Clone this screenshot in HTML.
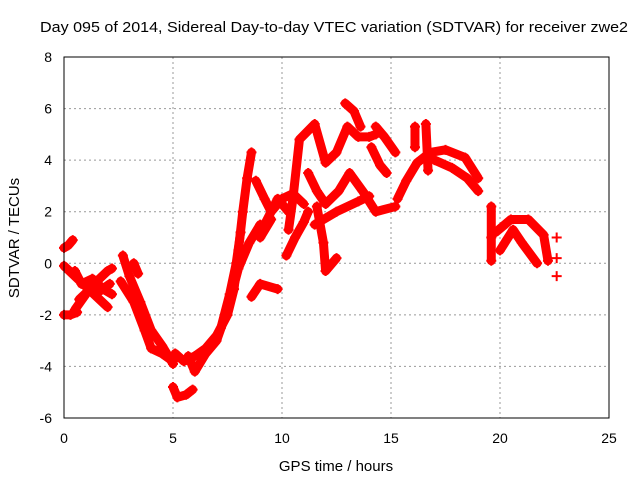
<!DOCTYPE html>
<html><head><meta charset="utf-8"><style>
body{margin:0;background:#fff;}
svg text{font-family:"Liberation Sans",sans-serif;font-size:14px;fill:#000;}
</style></head><body>
<svg id="chart" width="640" height="480">
<text x="40" y="32" textLength="588" lengthAdjust="spacingAndGlyphs" style="font-size:15px">Day 095 of 2014, Sidereal Day-to-day VTEC variation (SDTVAR) for receiver zwe2</text>
<text x="336" y="471" text-anchor="middle" style="font-size:15px">GPS time / hours</text>
<text transform="translate(19,238) rotate(-90)" text-anchor="middle" style="font-size:15px">SDTVAR / TECUs</text>
<g id="grid"></g><g id="ticks"></g><g id="marks"></g>
<rect x="64" y="57" width="545" height="361" fill="none" stroke="#000" stroke-width="1"/>
</svg>
<script>
const xTicks=[0,5,10,15,20,25];
const yTicks=[-6,-4,-2,0,2,4,6,8];
const tracks=[
[[0,0.6],[0.2,0.7],[0.4,0.9]],
[[0,-0.1],[0.5,-0.5],[1,-0.9],[1.5,-1.3],[2,-1.7]],
[[0.5,-1.8],[1,-1.2],[1.5,-0.7],[2,-0.3],[2.2,-0.2]],
[[0,-2],[0.3,-2],[0.6,-1.9]],
[[0.5,-0.3],[0.8,-0.8],[1.3,-0.6],[1.8,-1.0],[2.2,-1.2]],
[[0.7,-1.4],[1.2,-1.0],[1.6,-1.1],[2.1,-0.8]],
[[3.2,0],[3.4,-0.4]],
[[2.7,0.3],[3,-0.5],[3.5,-1.5],[4,-2.6],[4.5,-3.2],[5,-3.9]],
[[2.6,-0.7],[3.2,-1.5],[3.7,-2.6],[4,-3.3],[4.5,-3.5],[5,-3.8]],
[[5,-4.8],[5.2,-5.2],[5.6,-5.1],[5.9,-4.9]],
[[5.1,-3.5],[5.5,-3.8],[6,-3.6],[6.5,-3.3],[7,-2.8],[7.5,-2],[7.8,-1],[8,0.5],[8.2,2],[8.4,3.3],[8.6,4.3]],
[[5.7,-3.6],[6,-4.2],[6.5,-3.5],[7,-3],[7.5,-1.8],[8,-0.2],[8.5,0.8],[9,1.5]],
[[7.2,-2.5],[7.6,-1.2],[7.9,0],[8.1,1.2]],
[[8.8,3.2],[9.2,2.5],[9.5,2],[10,2.5],[10.5,2.7],[11,2.3]],
[[9.2,1.5],[9.8,2.5],[10.3,2.0]],
[[8.6,-1.3],[9,-0.8],[9.8,-1]],
[[9,1],[9.5,1.7]],
[[10.2,0.3],[10.6,1],[11,1.6],[11.2,2]],
[[10.3,1.3],[10.5,2.5],[10.8,4.8],[11.5,5.4],[12,3.9],[12.5,4.3],[13,5.3],[13.5,4.9],[14,4.9],[14.3,5.0]],
[[12.9,6.2],[13.3,5.9],[13.6,5.3]],
[[14.3,5.3],[14.7,4.9],[15.2,4.3]],
[[14.1,4.5],[14.5,3.8],[14.8,3.5]],
[[11.2,3.5],[11.6,2.8],[12,2.3],[12.6,2.8],[13.1,3.5],[13.7,2.8],[14.3,2.0],[15.2,2.2]],
[[11.6,2.2],[11.9,0.8],[12,-0.3],[12.5,0.2]],
[[11.5,1.5],[12.5,2.0],[13.5,2.4],[14,2.6]],
[[15.3,2.5],[15.7,3.2],[16.2,3.9],[16.8,4.3],[17.5,4.4],[18.4,4.1],[19,3.3]],
[[16.1,5.3],[16.1,4.5]],
[[16.6,5.4],[16.7,3.6]],
[[17,4.0],[17.8,3.7],[18.5,3.3],[19,2.8]],
[[19.6,2.2],[19.6,1],[19.6,0.1]],
[[19.8,1.2],[20.5,1.7],[21.3,1.7],[22,1.1],[22.2,0.1]],
[[20,0.5],[20.6,1.3],[21,0.8],[21.7,0.0]],
[[22.6,1]],[[22.6,0.2]],[[22.6,-0.5]]
];
const X=h=>64+h*545/25, Y=v=>418-(v+6)*361/14;
const ns="http://www.w3.org/2000/svg";
const grid=document.getElementById('grid'),ticks=document.getElementById('ticks'),marks=document.getElementById('marks');
function mk(t,a,p){const e=document.createElementNS(ns,t);for(const k in a)e.setAttribute(k,a[k]);p.appendChild(e);return e;}
xTicks.forEach(t=>{
 if(t>0&&t<25){const g=mk('line',{x1:X(t),x2:X(t),y1:57,y2:418,stroke:'#999','stroke-dasharray':'2,3'},grid);
 
 }
 const l=mk('text',{x:X(t),y:443,'text-anchor':'middle'},ticks);l.textContent=t;
 
 
});
yTicks.forEach(t=>{
 if(t>-6&&t<8){const g=mk('line',{x1:64,x2:609,y1:Y(t),y2:Y(t),stroke:'#999','stroke-dasharray':'2,3'},grid);
 
 }
 const l=mk('text',{x:52,y:Y(t)+5,'text-anchor':'end'},ticks);l.textContent=t;
 
 
});
tracks.forEach(tr=>{
 const pts=tr.map(p=>X(p[0])+','+Y(p[1])).join(' ');
 const pl=mk('polyline',{points:pts,fill:'none',stroke:'#f00','stroke-width':9,'stroke-linejoin':'round','stroke-linecap':'round'},marks);
 
 
 tr.forEach(p=>{
  const x=X(p[0]),y=Y(p[1]);
  const m=mk('path',{d:`M${x-5},${y}H${x+5}M${x},${y-5}V${y+5}`,stroke:'#f00','stroke-width':2},marks);
  
  
 });
});
</script>
</body></html>
